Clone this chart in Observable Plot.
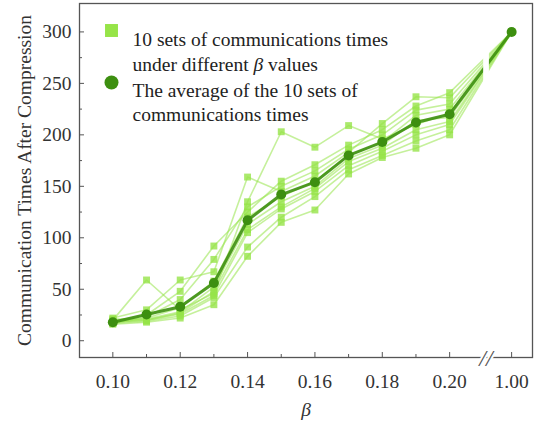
<!DOCTYPE html>
<html>
<head>
<meta charset="utf-8">
<script src="https://cdn.jsdelivr.net/npm/d3@7"></script>
<script src="https://cdn.jsdelivr.net/npm/@observablehq/plot@0.6"></script>
<style>
  html, body { margin: 0; padding: 0; background: white; }
</style>
</head>
<body>
<div id="chart"></div>
<script>
// ---- data ----
const betaLabels = ["0.10","0.11","0.12","0.13","0.14","0.15","0.16","0.17","0.18","0.19","0.20","1.00"];
const set1  = [20, 59, 30, 46, 135, 203, 188, 209, 196, 210, 221, 300];
const set2  = [22, 30, 59, 67, 159, 145, 160, 183, 211, 237, 236, 300];
const set3  = [19, 25, 48, 92, 125, 155, 171, 190, 205, 228, 241, 300];
const set4  = [18, 23, 40, 79, 130, 150, 165, 186, 200, 224, 230, 300];
const set5  = [17, 22, 32, 58, 120, 140, 155, 180, 193, 219, 225, 300];
const set6  = [21, 21, 28, 52, 113, 135, 150, 177, 190, 214, 217, 300];
const set7  = [19, 20, 27, 48, 108, 130, 148, 174, 187, 205, 213, 300];
const set8  = [18, 20, 26, 44, 105, 128, 145, 170, 184, 200, 210, 300];
const set9  = [17, 19, 24, 42, 91, 120, 140, 166, 180, 194, 205, 300];
const set10 = [16, 18, 22, 35, 82, 115, 127, 162, 178, 187, 200, 300];
const average = [18, 25.5, 33, 56, 117, 142, 154, 180, 193, 212, 220, 300];
const yMajorTicks = [0, 50, 100, 150, 200, 250, 300];
const yMinorTicks = [25, 75, 125, 175, 225, 275];
const xMajorLabels = ["0.10","0.12","0.14","0.16","0.18","0.20","1.00"];
const xMinorLabels = ["0.11","0.13","0.15","0.17","0.19"];
const legendLabels = ["10 sets of communications times", "under different β values", "The average of the 10 sets of", "communications times"];
const yTitle = "Communication Times After Compression";
const xTitle = "β";

// ---- layout ----
const W = 543, H = 429;
const mL = 79, mR = 11, mT = 3, mB = 72;
const frameW = W - mL - mR, frameH = H - mT - mB;
const BREAK_POS = 11.84;   // axis position of 1.00 after the break
const BREAK_MARK = 11.08;  // position of the "//" break mark
const pos = lbl => { const i = betaLabels.indexOf(lbl); return i < 11 ? i : BREAK_POS; };

const light = "#96e448";
const dark = "#3d8f10";
const axisColor = "#555";

const sets = [set1, set2, set3, set4, set5, set6, set7, set8, set9, set10];
const rows = sets.flatMap((s, k) => s.map((v, i) => ({set: k, beta: betaLabels[i], v})));
const avgRows = average.map((v, i) => ({beta: betaLabels[i], v}));

const yDomain = [-16.3, 327.6];
const xDomain = [-0.99, 12.46];

const plot = Plot.plot({
  width: W, height: H,
  marginLeft: mL, marginRight: mR, marginTop: mT, marginBottom: mB,
  style: {fontFamily: "Liberation Serif, Times New Roman, serif", fontSize: "19.5px", color: "#333", background: "white"},
  x: {type: "linear", domain: xDomain},
  y: {domain: yDomain},
  marks: [
    // light series
    Plot.line(rows, {x: d => pos(d.beta), y: "v", z: "set", stroke: light, strokeOpacity: 0.55, strokeWidth: 1.6}),
    Plot.dot(rows, {x: d => pos(d.beta), y: "v", symbol: "square", r: 3.9, fill: light, fillOpacity: 0.8, stroke: "none"}),
    // average
    Plot.line(avgRows, {x: d => pos(d.beta), y: "v", stroke: dark, strokeWidth: 3, strokeOpacity: 0.9}),
    Plot.dot(avgRows, {x: d => pos(d.beta), y: "v", r: 5, fill: dark, stroke: "none"}),
    // break gap
    Plot.rect([0], {x1: BREAK_MARK - 0.07, x2: BREAK_MARK + 0.1, y1: yDomain[0], y2: yDomain[1], fill: "white"}),
    // frame
    Plot.frame({stroke: axisColor, strokeWidth: 1.3}),
    // inward ticks
    Plot.tickX(xMajorLabels, {x: d => pos(d), stroke: axisColor, insetTop: frameH - 5}),
    Plot.tickX(xMinorLabels, {x: d => pos(d), stroke: axisColor, insetTop: frameH - 3}),
    Plot.tickY(yMajorTicks, {y: d => d, stroke: axisColor, insetRight: frameW - 5}),
    Plot.tickY(yMinorTicks, {y: d => d, stroke: axisColor, insetRight: frameW - 3}),
    // tick labels
    Plot.axisX(xMajorLabels.map(pos), {tickSize: 0, tickPadding: 17, tickFormat: p => xMajorLabels.find(l => pos(l) === p), label: null, fill: "#333"}),
    Plot.axisY(yMajorTicks, {tickSize: 0, tickPadding: 8, label: null, fill: "#333"}),
    // break mark
    Plot.text(["//"], {x: BREAK_MARK, frameAnchor: "bottom", text: d => d, fontSize: 24, fontStyle: "italic", fill: axisColor, stroke: "white", strokeWidth: 4, lineAnchor: "middle", dy: 1}),
    // axis titles
    Plot.text([yTitle], {frameAnchor: "left", dx: -55, rotate: -90, text: d => d, textAnchor: "middle", fill: "#333"}),
    Plot.text([xTitle], {frameAnchor: "bottom", dy: 58, text: d => d, fontStyle: "italic", fill: "#333"}),
    // legend
    Plot.dot([0], {frameAnchor: "top-left", dx: 32, dy: 27, symbol: "square", r: 7.3, fill: light, stroke: "none"}),
    Plot.dot([0], {frameAnchor: "top-left", dx: 32, dy: 79, r: 7, fill: dark, stroke: "none"}),
    Plot.text([legendLabels[0]], {frameAnchor: "top-left", dx: 53, dy: 29, text: d => d, textAnchor: "start", fill: "#222"}),
    Plot.text([legendLabels[1]], {frameAnchor: "top-left", dx: 53, dy: 54, text: d => d, textAnchor: "start", fill: "#222"}),
    Plot.text([legendLabels[2]], {frameAnchor: "top-left", dx: 53, dy: 80, text: d => d, textAnchor: "start", fill: "#222"}),
    Plot.text([legendLabels[3]], {frameAnchor: "top-left", dx: 53, dy: 104, text: d => d, textAnchor: "start", fill: "#222"})
  ]
});

// italic β inside the legend text
plot.querySelectorAll("text").forEach(t => {
  if (t.textContent === legendLabels[1]) {
    const [a, b] = legendLabels[1].split("β");
    t.textContent = "";
    t.appendChild(document.createTextNode(a));
    const ts = document.createElementNS("http://www.w3.org/2000/svg", "tspan");
    ts.setAttribute("font-style", "italic");
    ts.textContent = "β";
    t.appendChild(ts);
    t.appendChild(document.createTextNode(b));
  }
});

document.getElementById("chart").appendChild(plot);
</script>
</body>
</html>
